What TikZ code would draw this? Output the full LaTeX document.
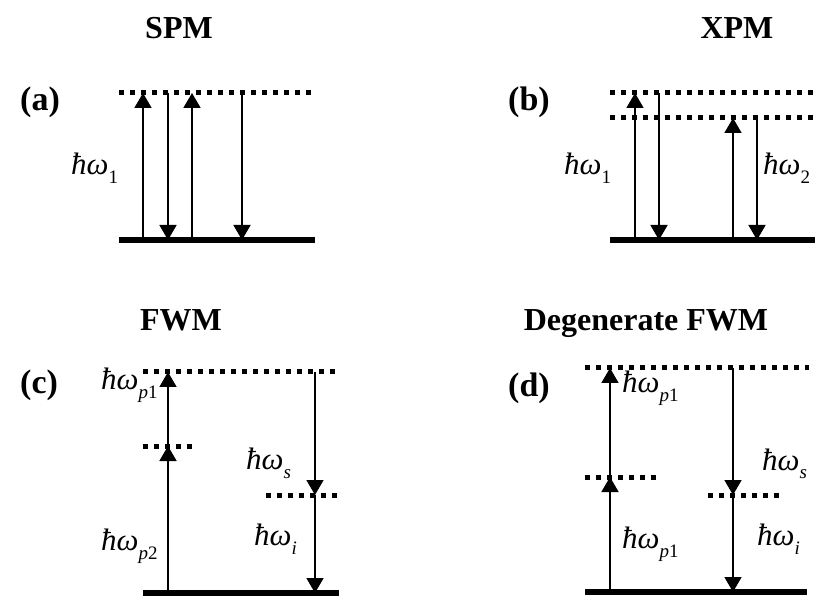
\documentclass[tikz,border=0pt]{standalone}
\usepackage{fontspec}
\setmainfont{Liberation Serif}
\usetikzlibrary{arrows.meta}
\newcommand{\hw}[1]{{\itshape ħω}\raisebox{-9pt}{\fontsize{19}{19}\selectfont #1}}
\begin{document}
\begin{tikzpicture}[x=1pt,y=-1pt,
  lev/.style={line width=5pt, dash pattern=on 5pt off 6pt},
  gnd/.style={line width=6pt},
  tr/.style={line width=1.6pt, -{Triangle[width=17pt,length=15pt]}},
  ttl/.style={font=\fontsize{32}{32}\selectfont\bfseries, anchor=base, inner sep=0},
  plab/.style={font=\fontsize{34}{34}\selectfont\bfseries, anchor=base west, inner sep=0},
  elab/.style={font=\fontsize{31}{31}\selectfont, anchor=base west, inner sep=0}]
\useasboundingbox (0,0) rectangle (823,596);
% titles
\node[ttl] (tA) at (179,39) {SPM};
\node[ttl] (tB) at (737,39) {XPM};
\node[ttl] (tC) at (181,331) {FWM};
\node[ttl] (tD) at (646,331) {Degenerate FWM};
\node[plab] (pA) at (20,111) {(a)};
\node[plab] (pB) at (508,111) {(b)};
\node[plab] (pC) at (20,394) {(c)};
\node[plab] (pD) at (508,396) {(d)};
% ---------- (a) ----------
\draw[lev] (119,93) -- (312,93);
\draw[gnd] (119,240) -- (315,240);
\coordinate (a1g) at (143,240); \coordinate (a1t) at (143,93);
\coordinate (a2g) at (168,240); \coordinate (a2t) at (168,93);
\coordinate (a3g) at (192,240); \coordinate (a3t) at (192,93);
\coordinate (a4g) at (242,240); \coordinate (a4t) at (242,93);
\draw[tr] (a1g) -- (a1t);
\draw[tr] (a2t) -- (a2g);
\draw[tr] (a3g) -- (a3t);
\draw[tr] (a4t) -- (a4g);
\node[elab] (la) at (71,175) {\hw{1}};
% ---------- (b) ----------
\draw[lev] (610,93) -- (816,93);
\draw[lev] (610,118) -- (816,118);
\draw[gnd] (610,240) -- (815,240);
\coordinate (b1g) at (635,240); \coordinate (b1t) at (635,93);
\coordinate (b2g) at (659,240); \coordinate (b2t) at (659,93);
\coordinate (b3g) at (733,240); \coordinate (b3t) at (733,118);
\coordinate (b4g) at (757,240); \coordinate (b4t) at (757,118);
\draw[tr] (b1g) -- (b1t);
\draw[tr] (b2t) -- (b2g);
\draw[tr] (b3g) -- (b3t);
\draw[tr] (b4t) -- (b4g);
\node[elab] (lb1) at (564,175) {\hw{1}};
\node[elab] (lb2) at (763,175) {\hw{2}};
% ---------- (c) ----------
\draw[lev] (143,372) -- (335,372);
\draw[lev] (143,446) -- (195,446);
\draw[lev] (266,495) -- (338,495);
\draw[gnd] (143,593) -- (339,593);
\coordinate (c1g) at (168,593); \coordinate (c1m) at (168,446); \coordinate (c1t) at (168,372);
\coordinate (c2t) at (315,372); \coordinate (c2m) at (315,495); \coordinate (c2g) at (315,593);
\draw[tr] (c1g) -- (c1m);
\draw[tr] (c1m) -- (c1t);
\draw[tr] (c2t) -- (c2m);
\draw[tr] (c2m) -- (c2g);
\node[elab] (lc1) at (101,390) {\hw{\textit{p}1}};
\node[elab] (lc2) at (101,550) {\hw{\textit{p}2}};
\node[elab] (lc3) at (246,469) {\hw{\textit{s}}};
\node[elab] (lc4) at (254,545) {\hw{\textit{i}}};
% ---------- (d) ----------
\draw[lev] (585,368) -- (809,368);
\draw[lev] (585,477) -- (658,477);
\draw[lev] (708,495) -- (780,495);
\draw[gnd] (585,592) -- (807,592);
\coordinate (d1g) at (610,592); \coordinate (d1m) at (610,477); \coordinate (d1t) at (610,368);
\coordinate (d2t) at (733,368); \coordinate (d2m) at (733,495); \coordinate (d2g) at (733,592);
\draw[tr] (d1g) -- (d1m);
\draw[tr] (d1m) -- (d1t);
\draw[tr] (d2t) -- (d2m);
\draw[tr] (d2m) -- (d2g);
\node[elab] (ld1) at (622,393) {\hw{\textit{p}1}};
\node[elab] (ld2) at (622,548) {\hw{\textit{p}1}};
\node[elab] (ld3) at (762,470) {\hw{\textit{s}}};
\node[elab] (ld4) at (757,545) {\hw{\textit{i}}};
\end{tikzpicture}
\end{document}
